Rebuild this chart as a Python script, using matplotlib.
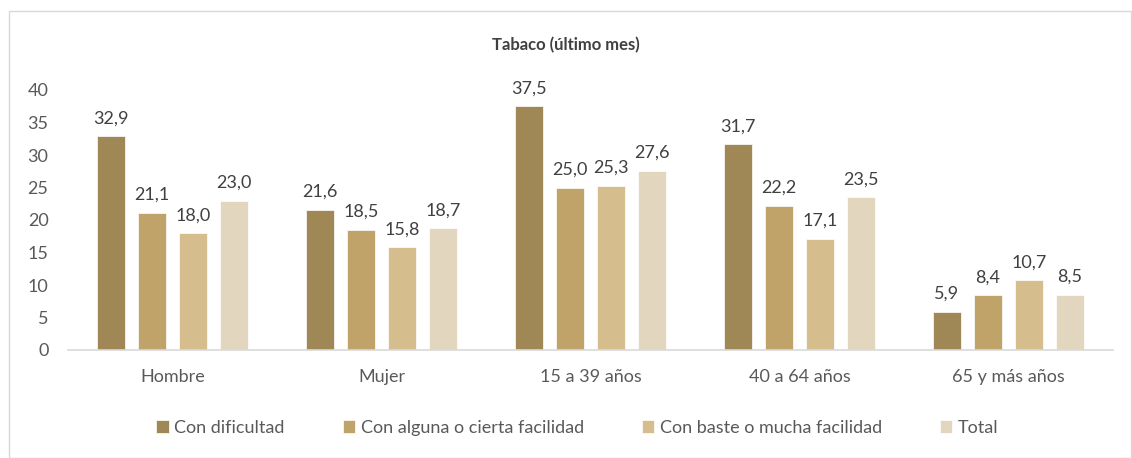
import matplotlib as mpl
mpl.use("Agg")
import matplotlib.pyplot as plt
import numpy as np
from matplotlib.patches import Rectangle

plt.rcParams['font.family'] = ['Lato', 'DejaVu Sans']

categories = ['Hombre', 'Mujer', '15 a 39 años', '40 a 64 años', '65 y más años']
series_names = ['Con dificultad', 'Con alguna o cierta facilidad',
                'Con baste o mucha facilidad', 'Total']
con_dificultad = [32.9, 21.6, 37.5, 31.7, 5.9]
alguna_facilidad = [21.1, 18.5, 25.0, 22.2, 8.4]
mucha_facilidad = [18.0, 15.8, 25.3, 17.1, 10.7]
total = [23.0, 18.7, 27.6, 23.5, 8.5]
colors = ['#A08756', '#BFA368', '#D5BD8E', '#E3D6BE']

fig = plt.figure(figsize=(11.32, 4.58), dpi=100)
# outer frame
fig.patches.append(Rectangle((9 / 1132, 0), 1 - 9 / 1132 - 0.001, 1 - 11 / 458,
                             transform=fig.transFigure, fill=False,
                             edgecolor='#D9D9D9', linewidth=1))
ax = fig.add_axes([68 / 1132, 108 / 458, 1045 / 1132, 260 / 458])

x = np.arange(len(categories))
width = 28 / 209
step = 41 / 209
all_series = [con_dificultad, alguna_facilidad, mucha_facilidad, total]
for i, vals in enumerate(all_series):
    pos = x + (i - 1.5) * step
    bars = ax.bar(pos, vals, width, color=colors[i], label=series_names[i],
                  edgecolor='white', linewidth=0.5)
    for b, v in zip(bars, vals):
        ax.text(b.get_x() + b.get_width() / 2, v + 1.5,
                ('%.1f' % v).replace('.', ','), ha='center', va='bottom',
                fontsize=13, color='#404040')

ax.set_xlim(-0.5, len(categories) - 0.5)
ax.set_ylim(0, 40)
ax.set_yticks(range(0, 45, 5))
ax.set_xticks(x)
ax.set_xticklabels(categories)
ax.tick_params(axis='both', length=0, labelsize=13, colors='#595959')
ax.tick_params(axis='x', pad=14)
ax.tick_params(axis='y', pad=14)
for s in ['top', 'right', 'left']:
    ax.spines[s].set_visible(False)
ax.spines['bottom'].set_color('#D9D9D9')
ax.spines['bottom'].set_linewidth(1.2)

fig.text(0.5, 1 - 45 / 458, 'Tabaco (último mes)', ha='center', va='center',
         fontsize=12, fontweight='bold', color='#404040')

leg = fig.legend(loc='center', bbox_to_anchor=(0.51, 1 - 428 / 458), ncol=4,
                 frameon=False, fontsize=13, handlelength=0.7, handleheight=0.7,
                 handletextpad=0.3, columnspacing=3.2, labelcolor='#595959')

fig.savefig('out.png', dpi=100)
